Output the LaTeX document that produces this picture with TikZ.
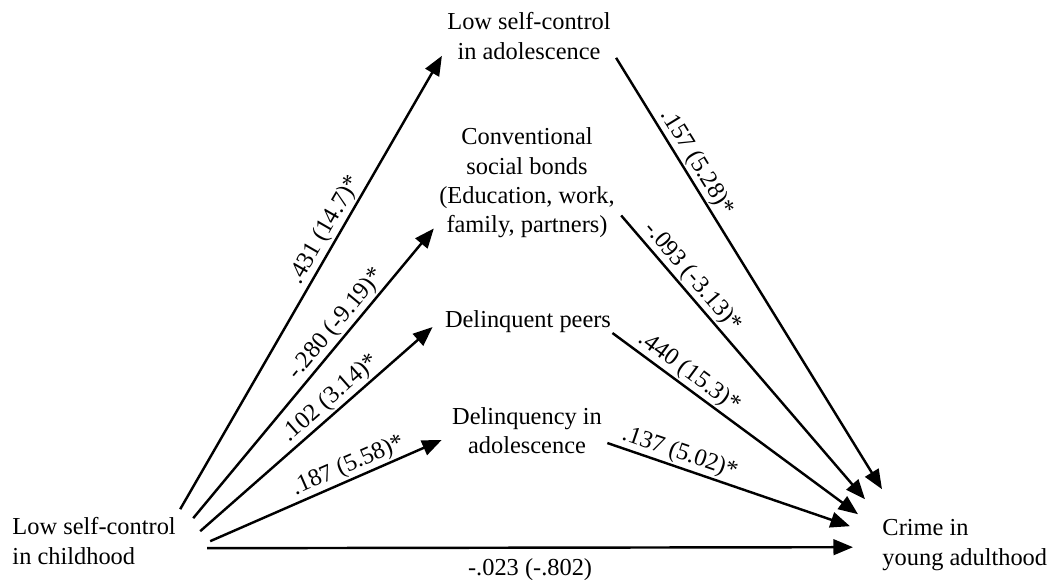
\documentclass[tikz,border=0pt]{standalone}
\usepackage{fontspec}
\setmainfont{Liberation Serif}
\usetikzlibrary{arrows.meta}
\tikzset{
   var/.style={inner sep=0pt, align=center, font=\fontsize{10}{12}\selectfont},
   conn/.style={line width=1pt, -{Triangle[length=8pt,width=6.4pt]}},
   coef/.style={sloped, above, inner sep=0.6pt, font=\fontsize{10}{12}\selectfont}
}

\begin{document}
\begin{tikzpicture}[x=0.41pt,y=-0.41pt]
  \useasboundingbox (0,0) rectangle (1050,579);
  \node (child)  [var, align=left, anchor=west] at (12,541) {Low self-control\\in childhood};
  \node (adolsc) [var] at (529,36)  {Low self-control\\in adolescence};
  \node (bonds)  [var] at (527,183) {Conventional\\social bonds\\(Education, work,\\family, partners)};
  \node (peers)  [var] at (528,322) {Delinquent peers};
  \node (delinq) [var] at (527,431) {Delinquency in\\adolescence};
  \node (crime)  [var, align=left, anchor=west] at (882,545) {Crime in\\young adulthood};
  \path[conn]
    ([shift={(4,-8)}]child.north east) edge node [coef, pos=0.6] {.431 (14.7)*} ([shift={(-5,-4)}]adolsc.south west)
    ([shift={(17,1)}]child.north east) edge node [coef, pos=0.64] {-.280 (-9.19)*} ([shift={(-5,-10)}]bonds.south west)
    ([shift={(24,14)}]child.north east) edge node [coef, pos=0.6] {.102 (3.14)*} ([shift={(-12,5)}]peers.west)
    ([shift={(34,24)}]child.north east) edge node [coef, pos=0.62] {.187 (5.58)*} ([shift={(-10,9)}]delinq.west)
    ([shift={(31,31)}]child.north east) edge node [below=3.5pt, inner sep=0.6pt, font=\fontsize{10}{12}\selectfont] {-.023 (-.802)} ([shift={(-29,28)}]crime.north west)
    ([shift={(5,-2)}]adolsc.south east) edge node [coef, pos=0.26] {.157 (5.28)*} ([shift={(0,-30)}]crime.north west)
    ([shift={(6,-23)}]bonds.south east) edge node [coef, pos=0.25] {-.093 (-3.13)*} ([shift={(-17,-20)}]crime.north west)
    ([shift={(1,11)}]peers.east) edge node [coef, pos=0.28] {.440 (15.3)*} ([shift={(-24,-5)}]crime.north west)
    ([shift={(5,12)}]delinq.east) edge node [coef, pos=0.28] {.137 (5.02)*} ([shift={(-32,7)}]crime.north west)
;
\end{tikzpicture}
\end{document}
